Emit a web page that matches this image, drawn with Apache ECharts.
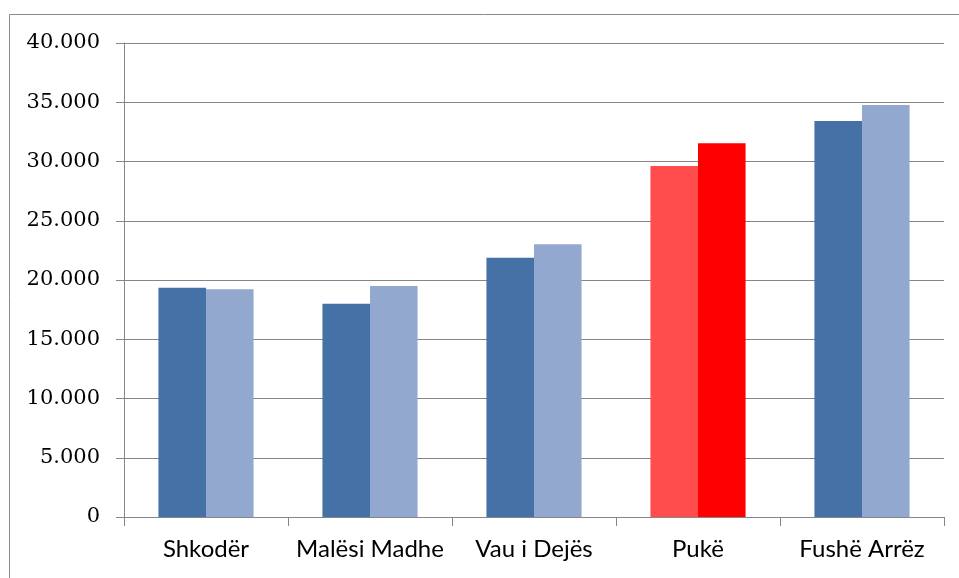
<!DOCTYPE html>
<html>
<head>
<meta charset="utf-8">
<script src="https://cdn.jsdelivr.net/npm/echarts@6/dist/echarts.min.js"></script>
<style>html,body{margin:0;padding:0;background:#fff;}#c{width:959px;height:578px;}</style>
</head>
<body>
<div id="c"></div>
<script>
const categories = ['Shkodër', 'Malësi Madhe', 'Vau i Dejës', 'Pukë', 'Fushë Arrëz'];
const seriesA = [19350, 18000, 21880, 29620, 33420];
const seriesB = [19220, 19490, 23010, 31540, 34770];
const highlightCategory = 'Pukë';

const colorA = '#4571A6';
const colorB = '#92A8CE';
const hiColorA = '#FF4D4D';
const hiColorB = '#FF0000';

function fmt(v) {
  return String(v).replace(/\B(?=(\d{3})+(?!\d))/g, '.');
}
function toData(values, hiColor) {
  return values.map((v, i) => categories[i] === highlightCategory
    ? { value: v, itemStyle: { color: hiColor } }
    : v);
}

const chart = echarts.init(document.getElementById('c'), null, { renderer: 'canvas' });
chart.setOption({
  animation: false,
  backgroundColor: '#ffffff',
  graphic: [{
    type: 'rect',
    shape: { x: 9.5, y: 14.5, width: 1000, height: 700 },
    style: { fill: 'none', stroke: '#8a8a8a', lineWidth: 1 },
    silent: true
  }],
  grid: { left: 124, right: 15, top: 43, bottom: 61, containLabel: false },
  xAxis: {
    type: 'category',
    data: categories,
    axisLine: { show: true, lineStyle: { color: '#868686', width: 1 } },
    axisTick: { show: true, length: 9, interval: 0, lineStyle: { color: '#868686' } },
    axisLabel: {
      interval: 0, margin: 20,
      fontFamily: 'Lato', fontSize: 24, color: '#000'
    }
  },
  yAxis: {
    type: 'value',
    min: 0, max: 40000, interval: 5000,
    axisLine: { show: true, lineStyle: { color: '#868686', width: 1 } },
    axisTick: { show: true, length: 8, lineStyle: { color: '#868686' } },
    splitLine: { show: true, lineStyle: { color: '#868686', width: 1 } },
    axisLabel: {
      margin: 24, formatter: fmt,
      fontFamily: 'DejaVu Serif', fontSize: 21, color: '#000'
    }
  },
  series: [
    {
      type: 'bar', name: 'A', data: toData(seriesA, hiColorA),
      itemStyle: { color: colorA },
      barGap: '0%', barCategoryGap: '42%'
    },
    {
      type: 'bar', name: 'B', data: toData(seriesB, hiColorB),
      itemStyle: { color: colorB },
      barGap: '0%', barCategoryGap: '42%'
    }
  ]
});
</script>
</body>
</html>
